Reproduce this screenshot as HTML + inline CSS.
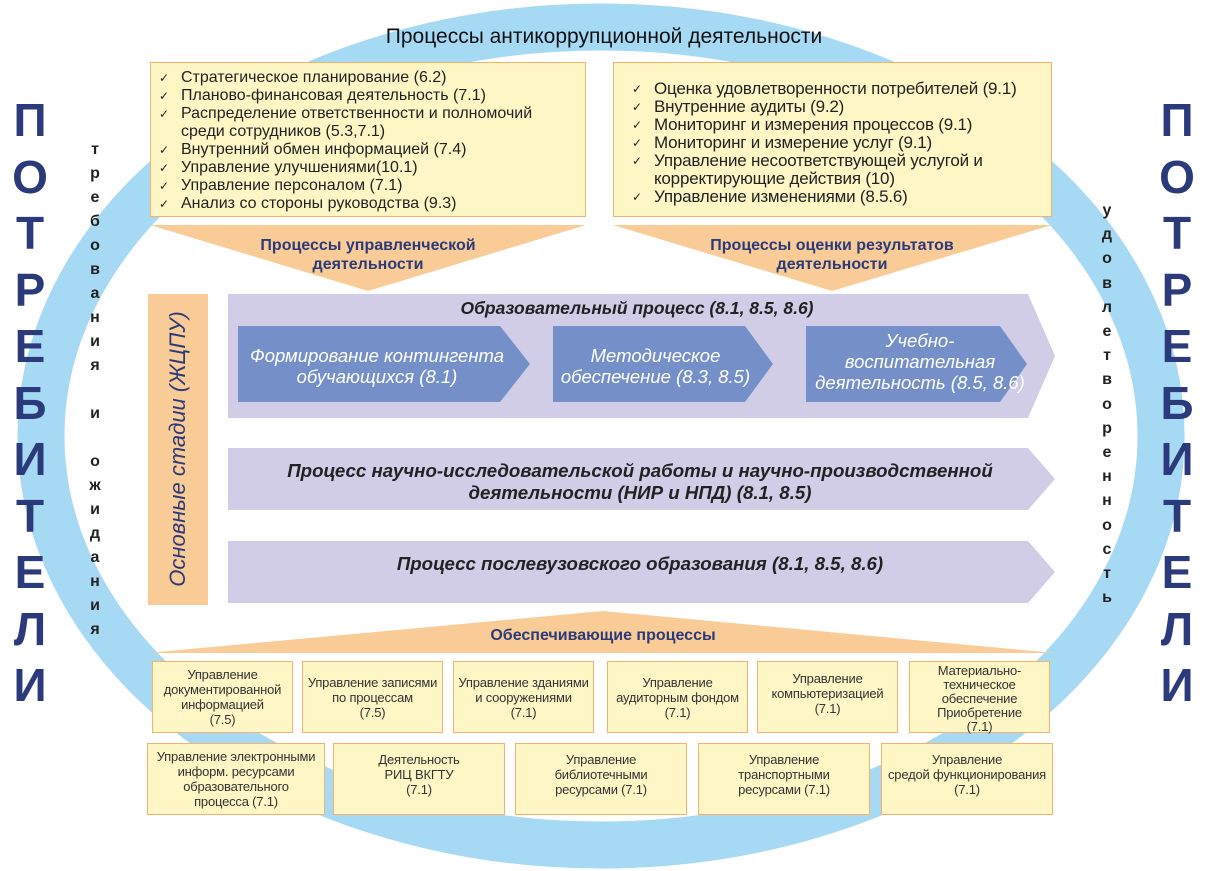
<!DOCTYPE html>
<html><head><meta charset="utf-8"><style>
body{margin:0;width:1225px;height:871px;background:#fff;position:relative;overflow:hidden;font-family:"Liberation Sans",sans-serif;}
.a{position:absolute;}
.box{position:absolute;background:#fff6c6;border:1.5px solid #f6b26b;box-sizing:border-box;}
ul{list-style:none;margin:0;padding:0;}
li{position:relative;padding-left:30px;font-size:16px;line-height:18px;color:#222;white-space:nowrap;}
li:before{content:"✓";position:absolute;left:8px;font-size:12px;}
.sb{position:absolute;background:#fff6c6;border:1.5px solid #f6b26b;box-sizing:border-box;display:flex;align-items:center;justify-content:center;text-align:center;font-size:13px;line-height:15px;color:#333;letter-spacing:-0.2px;white-space:nowrap;}
.big{position:absolute;font-weight:bold;color:#2b3a7a;font-size:46px;width:60px;text-align:center;line-height:56.5px;}
.vt{position:absolute;font-weight:bold;color:#222;font-size:16px;width:20px;text-align:center;}
.nav{color:#2b3a7a;font-weight:bold;font-size:16px;text-align:center;line-height:19px;}
.it{font-style:italic;text-align:center;}
</style></head><body>
<svg class="a" style="left:0;top:0" width="1225" height="871">
<ellipse cx="601" cy="436" rx="560" ry="409" fill="none" stroke="#a6d9f4" stroke-width="47"/>
<polygon points="150,225 586,225 368,291" fill="#f9cb96"/>
<polygon points="613,225 1052,225 832,291" fill="#f9cb96"/>
<polygon points="147,653 1055,653 603,611" fill="#f9cb96"/>
<rect x="148" y="294" width="60" height="311" fill="#f9cb96"/>
<polygon points="228,294 1028,294 1055,356 1028,418 228,418" fill="#d1cde6"/>
<polygon points="228,448 1028,448 1055,479 1028,510 228,510" fill="#d1cde6"/>
<polygon points="228,541 1028,541 1055,572 1028,603 228,603" fill="#d1cde6"/>
<polygon points="238,326 500,326 530,364 500,402 238,402" fill="#7590c8"/>
<polygon points="553,326 745,326 773,364 745,402 553,402" fill="#7590c8"/>
<polygon points="806,326 1000,326 1027,364 1000,402 806,402" fill="#7590c8"/>
</svg>
<div class="a" style="left:254px;top:25px;width:700px;text-align:center;font-size:21px;color:#111;">Процессы антикоррупционной деятельности</div>
<div class="box" style="left:150px;top:62px;width:436px;height:155px;padding-top:6px;">
<ul><li>Стратегическое планирование (6.2)</li><li>Планово-финансовая деятельность (7.1)</li><li>Распределение ответственности и полномочий<br>среди сотрудников (5.3,7.1)</li><li>Внутренний обмен информацией (7.4)</li><li>Управление улучшениями(10.1)</li><li>Управление персоналом (7.1)</li><li>Анализ со стороны руководства (9.3)</li></ul></div>
<div class="box" style="left:613px;top:62px;width:439px;height:155px;padding-top:17px;">
<ul style="margin-left:10px"><li style="font-size:17px;letter-spacing:-0.2px">Оценка удовлетворенности потребителей (9.1)</li><li style="font-size:17px;letter-spacing:-0.2px">Внутренние аудиты (9.2)</li><li style="font-size:17px;letter-spacing:-0.2px">Мониторинг и измерения процессов (9.1)</li><li style="font-size:17px;letter-spacing:-0.2px">Мониторинг и измерение услуг  (9.1)</li><li style="font-size:17px;letter-spacing:-0.2px">Управление несоответствующей услугой и<br>корректирующие действия (10)</li><li style="font-size:17px;letter-spacing:-0.2px">Управление изменениями  (8.5.6)</li></ul></div>
<div class="a nav" style="left:218px;top:236px;width:300px;">Процессы управленческой<br>деятельности</div>
<div class="a nav" style="left:682px;top:236px;width:300px;">Процессы оценки результатов<br>деятельности</div>
<div class="a nav" style="left:403px;top:626px;width:400px;">Обеспечивающие процессы</div>
<div class="a it" style="left:148px;top:294px;width:60px;height:311px;"><div style="position:absolute;left:30px;top:155px;transform:translate(-50%,-50%) rotate(-90deg);white-space:nowrap;font-size:22px;color:#2b3a7a;">Основные стадии (ЖЦПУ)</div></div>
<div class="a it" style="left:387px;top:298px;width:500px;font-size:17.5px;font-weight:bold;color:#222;">Образовательный процесс (8.1, 8.5, 8.6)</div>
<div class="a it" style="left:232px;top:345px;width:290px;font-size:18.5px;line-height:21px;color:#fff;">Формирование контингента<br>обучающихся (8.1)</div>
<div class="a it" style="left:543px;top:345px;width:225px;font-size:18.5px;line-height:21px;color:#fff;">Методическое<br>обеспечение (8.3, 8.5)</div>
<div class="a it" style="left:800px;top:330px;width:240px;font-size:18.5px;line-height:21px;color:#fff;">Учебно-<br>воспитательная<br>деятельность (8.5, 8.6)</div>
<div class="a it" style="left:220px;top:460px;width:840px;font-size:18.7px;line-height:22px;font-weight:bold;color:#222;">Процесс научно-исследовательской работы и научно-производственной<br>деятельности (НИР и НПД) (8.1, 8.5)</div>
<div class="a it" style="left:220px;top:553px;width:840px;font-size:18.7px;font-weight:bold;color:#222;">Процесс послевузовского образования (8.1, 8.5, 8.6)</div>
<div class="sb" style="left:152px;top:661px;width:141px;height:72px;">Управление<br>документированной<br>информацией<br>(7.5)</div>
<div class="sb" style="left:302px;top:661px;width:141px;height:72px;">Управление записями<br>по процессам<br>(7.5)</div>
<div class="sb" style="left:453px;top:661px;width:141px;height:72px;">Управление зданиями<br>и сооружениями<br>(7.1)</div>
<div class="sb" style="left:607px;top:661px;width:141px;height:72px;">Управление<br>аудиторным фондом<br>(7.1)</div>
<div class="sb" style="left:757px;top:661px;width:141px;height:72px;padding-bottom:8px;">Управление<br>компьютеризацией<br>(7.1)</div>
<div class="sb" style="left:909px;top:661px;width:141px;height:72px;padding-top:4px;line-height:14px;">Материально-<br>техническое<br>обеспечение<br>Приобретение<br>(7.1)</div>
<div class="sb" style="left:147px;top:743px;width:178px;height:72px;">Управление  электронными<br>информ. ресурсами<br>образовательного<br>процесса (7.1)</div>
<div class="sb" style="left:333px;top:743px;width:172px;height:72px;padding-bottom:10px;">Деятельность<br>РИЦ ВКГТУ<br>(7.1)</div>
<div class="sb" style="left:515px;top:743px;width:172px;height:72px;padding-bottom:10px;">Управление<br>библиотечными<br>ресурсами (7.1)</div>
<div class="sb" style="left:698px;top:743px;width:172px;height:72px;padding-bottom:10px;">Управление<br>транспортными<br>ресурсами (7.1)</div>
<div class="sb" style="left:881px;top:743px;width:172px;height:72px;padding-bottom:10px;">Управление<br>средой функционирования<br>(7.1)</div>
<div class="big" style="left:0;top:92px;">П<br>О<br>Т<br>Р<br>Е<br>Б<br>И<br>Т<br>Е<br>Л<br>И</div>
<div class="big" style="left:1147px;top:92px;">П<br>О<br>Т<br>Р<br>Е<br>Б<br>И<br>Т<br>Е<br>Л<br>И</div>
<div class="vt" style="left:85px;top:138px;line-height:24px;">т<br>р<br>е<br>б<br>о<br>в<br>а<br>н<br>и<br>я<br>&nbsp;<br>и<br>&nbsp;<br>о<br>ж<br>и<br>д<br>а<br>н<br>и<br>я</div>
<div class="vt" style="left:1097px;top:199px;line-height:24.2px;">у<br>д<br>о<br>в<br>л<br>е<br>т<br>в<br>о<br>р<br>е<br>н<br>н<br>о<br>с<br>т<br>ь</div>
</body></html>
